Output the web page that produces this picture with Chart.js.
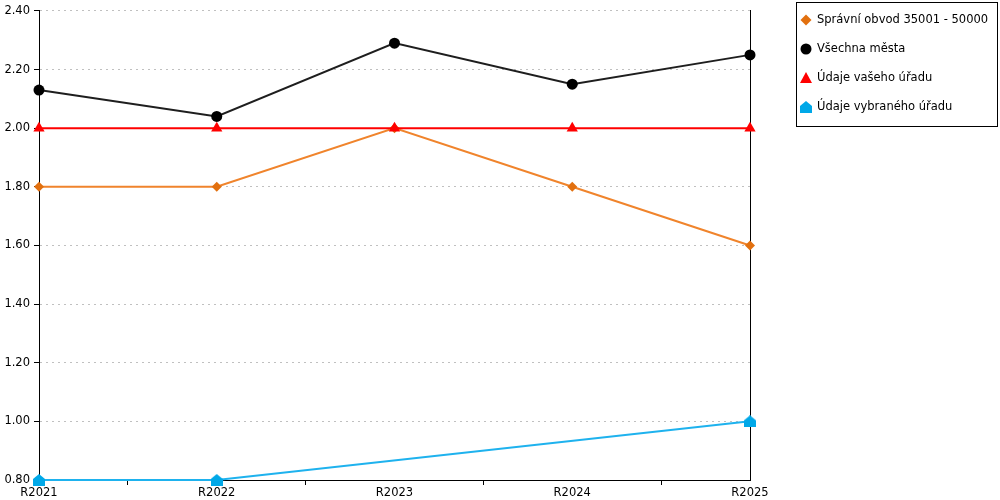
<!DOCTYPE html>
<html><head><meta charset="utf-8">
<script src="https://cdn.jsdelivr.net/npm/chart.js@4/dist/chart.umd.min.js"></script>
<style>html,body{margin:0;padding:0;background:#fff}</style>
</head><body>
<canvas id="c" width="1000" height="500"></canvas>
<script>
const categories = ['R2021', 'R2022', 'R2023', 'R2024', 'R2025'];
const seriesNames = ['Správní obvod 35001 - 50000', 'Všechna města', 'Údaje vašeho úřadu', 'Údaje vybraného úřadu'];
const spravniObvod = [1.80, 1.80, 2.00, 1.80, 1.60];
const vsechnaMesta = [2.13, 2.04, 2.29, 2.15, 2.25];
const vasUrad = [2.00, 2.00, 2.00, 2.00, 2.00];
const vybranyUrad = [0.80, 0.80, null, null, 1.00];
const yMin = 0.80, yMax = 2.40, yStep = 0.20;

const FONT = "'DejaVu Sans', sans-serif";
const FSIZE = 11.5;
const colors = {
  orangeLine: '#F0842C', orangePt: '#E2700F',
  blackLine: '#1e1e1e', blackPt: '#000000',
  red: '#FF0000',
  blueLine: '#1EB2EE', bluePt: '#00A8E8'
};

function houseCanvas(color) {
  const c = document.createElement('canvas');
  c.width = 12; c.height = 12;
  const g = c.getContext('2d');
  g.fillStyle = color;
  g.beginPath();
  g.moveTo(6, 0); g.lineTo(12, 5); g.lineTo(12, 12); g.lineTo(0, 12); g.lineTo(0, 5);
  g.closePath(); g.fill();
  return c;
}
const house = houseCanvas(colors.bluePt);

function toPts(arr) { return arr.map((v, i) => ({ x: i, y: v })); }

function drawMarker(ctx, kind, x, y, color) {
  ctx.save();
  ctx.fillStyle = color;
  ctx.beginPath();
  if (kind === 'diamond') {
    ctx.moveTo(x, y - 5.5); ctx.lineTo(x + 5.5, y); ctx.lineTo(x, y + 5.5); ctx.lineTo(x - 5.5, y);
  } else if (kind === 'circle') {
    ctx.arc(x, y, 5.5, 0, Math.PI * 2);
  } else if (kind === 'triangle') {
    ctx.moveTo(x, y - 6); ctx.lineTo(x + 6, y + 5); ctx.lineTo(x - 6, y + 5);
  } else if (kind === 'house') {
    ctx.moveTo(x, y - 6); ctx.lineTo(x + 6, y - 1); ctx.lineTo(x + 6, y + 6); ctx.lineTo(x - 6, y + 6); ctx.lineTo(x - 6, y - 1);
  }
  ctx.closePath(); ctx.fill();
  ctx.restore();
}

const legendMarkers = [
  ['diamond', colors.orangePt], ['circle', colors.blackPt], ['triangle', colors.red], ['house', colors.bluePt]
];

const legendBox = {
  id: 'legendBox',
  afterDraw(chart) {
    const ctx = chart.ctx;
    ctx.save();
    ctx.strokeStyle = '#000'; ctx.lineWidth = 1;
    ctx.strokeRect(796.5, 2.5, 201, 124);
    ctx.font = FSIZE + 'px ' + FONT;
    ctx.fillStyle = '#000';
    ctx.textBaseline = 'middle';
    const rows = [20, 49, 78, 107];
    chart.data.datasets.forEach((ds, i) => {
      drawMarker(ctx, legendMarkers[i][0], 806, rows[i], legendMarkers[i][1]);
      ctx.fillText(ds.label, 817, rows[i] + 0.5);
    });
    ctx.restore();
  }
};

new Chart(document.getElementById('c'), {
  type: 'line',
  data: {
    datasets: [
      { label: seriesNames[0], data: toPts(spravniObvod), borderColor: colors.orangeLine, backgroundColor: colors.orangePt,
        pointBackgroundColor: colors.orangePt, pointBorderColor: colors.orangePt, pointStyle: 'rectRot', pointRadius: 5,
        borderWidth: 2, pointBorderWidth: 0, clip: false, order: 3 },
      { label: seriesNames[1], data: toPts(vsechnaMesta), borderColor: colors.blackLine, backgroundColor: colors.blackPt,
        pointBackgroundColor: colors.blackPt, pointBorderColor: colors.blackPt, pointStyle: 'circle', pointRadius: 5.5,
        borderWidth: 2, pointBorderWidth: 0, clip: false, order: 1 },
      { label: seriesNames[2], data: toPts(vasUrad), borderColor: colors.red, backgroundColor: colors.red,
        pointBackgroundColor: colors.red, pointBorderColor: colors.red, pointStyle: 'triangle', pointRadius: 6.5,
        borderWidth: 2, pointBorderWidth: 0, clip: false, order: 0 },
      { label: seriesNames[3], data: toPts(vybranyUrad), borderColor: colors.blueLine, backgroundColor: colors.bluePt,
        pointStyle: house, pointRadius: 6, borderWidth: 2, spanGaps: true, clip: false, order: 2 }
    ]
  },
  options: {
    responsive: false,
    animation: false,
    devicePixelRatio: 1,
    layout: { padding: { left: 0, top: 10, right: 250, bottom: 0 } },
    plugins: { legend: { display: false }, tooltip: { enabled: false } },
    elements: { line: { tension: 0 } },
    scales: {
      x: {
        type: 'linear', min: 0, max: categories.length - 1,
        afterFit(s) { s.height = 20; },
        ticks: {
          stepSize: 0.5, autoSkip: false, maxRotation: 0, padding: 1,
          color: '#000', font: { family: FONT, size: FSIZE },
          callback: (v) => Number.isInteger(v) ? categories[v] : ''
        },
        grid: {
          drawOnChartArea: false, drawTicks: true, tickLength: 5, tickWidth: 1,
          tickColor: (c) => (c.tick && !Number.isInteger(c.tick.value)) ? '#000' : 'rgba(0,0,0,0)'
        },
        border: { display: true, color: '#000', width: 1 }
      },
      y: {
        min: yMin, max: yMax,
        afterFit(s) { s.width = 39; },
        ticks: {
          stepSize: yStep, padding: 4, color: '#000', font: { family: FONT, size: FSIZE },
          callback: (v) => Number(v).toFixed(2)
        },
        grid: { color: '#c0c0c0', lineWidth: 1, drawTicks: true, tickLength: 5, tickColor: '#000', tickBorderDash: [] },
        border: { display: true, color: '#000', width: 1, dash: [2, 4] }
      },
      y2: {
        position: 'right', display: true,
        afterFit(s) { s.width = 0; },
        ticks: { display: false },
        grid: { drawOnChartArea: false, drawTicks: false },
        border: { display: true, color: '#000', width: 1 }
      }
    }
  },
  plugins: [legendBox]
});
</script>
</body></html>
